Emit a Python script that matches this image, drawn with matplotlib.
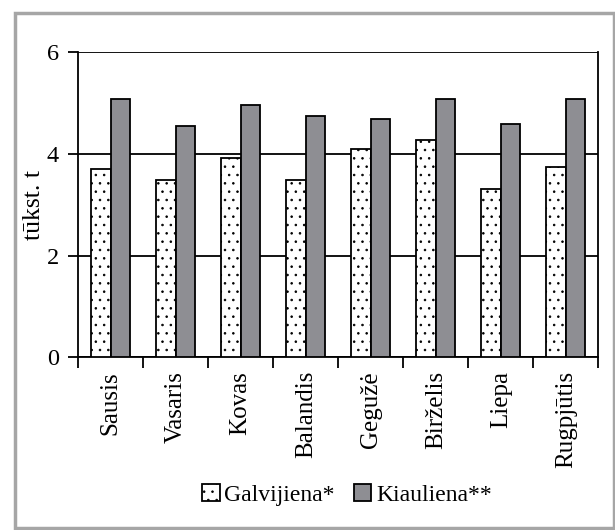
import numpy as np
import matplotlib
matplotlib.use("Agg")
import matplotlib.pyplot as plt
from matplotlib.patches import Rectangle

# data
months = ['Sausis', 'Vasaris', 'Kovas', 'Balandis', 'Gegužė', 'Birželis', 'Liepa', 'Rugpjūtis']
galvijiena = [3.70, 3.48, 3.91, 3.48, 4.10, 4.28, 3.30, 3.74]
kiauliena = [5.07, 4.54, 4.97, 4.75, 4.68, 5.07, 4.58, 5.07]
yticks = [0, 2, 4, 6]

plt.rcParams['font.family'] = ['Liberation Serif', 'DejaVu Serif']
plt.rcParams['hatch.linewidth'] = 0.6
plt.rcParams['hatch.color'] = '#555555'

fig = plt.figure(figsize=(6.15, 5.30), dpi=100, facecolor='white')

# grey frame around the whole chart
fig.patches.append(Rectangle((15 / 615, 2 / 530), 599 / 615, 515 / 530, transform=fig.transFigure,
                             fill=False, edgecolor='#a6a6a6', linewidth=2.5))

ax = fig.add_axes([0.127, 0.326, 0.846, 0.5755])
x = np.arange(len(months))
w = 0.30
ax.bar(x - w / 2, galvijiena, w, color='white', edgecolor='black', linewidth=1.3,
       hatch='..', label='Galvijiena*', zorder=3)
ax.bar(x + w / 2, kiauliena, w, color='#8e8e93', edgecolor='black', linewidth=1.3,
       label='Kiauliena**', zorder=3)

ax.set_xlim(-0.5, len(months) - 0.5)
ax.set_ylim(0, 6)
ax.set_yticks(yticks)
ax.set_yticklabels([str(v) for v in yticks], fontsize=17.5)
ax.yaxis.grid(True, color='black', linewidth=1.3, zorder=0)
ax.set_axisbelow(True)

ax.set_xticks(x)
ax.set_xticklabels(months, rotation=90, fontsize=18)
ax.set_xticks(np.arange(-0.5, len(months)), minor=True)
ax.tick_params(axis='x', which='major', length=0, pad=10)
ax.tick_params(axis='x', which='minor', length=8, width=1.3)
ax.tick_params(axis='y', length=7, width=1.3, pad=7)

for s in ['left', 'right', 'bottom']:
    ax.spines[s].set_linewidth(1.3)
ax.spines['top'].set_visible(False)

ax.set_ylabel('tūkst. t', fontsize=18.5)
ax.yaxis.set_label_coords(-0.063, 0.5)

fig.legend(loc='center', bbox_to_anchor=(0.564, 0.066), ncol=2, frameon=False, fontsize=17,
           handlelength=0.75, handleheight=0.75, handletextpad=0.2, columnspacing=0.8)

fig.savefig('out.png', dpi=100, facecolor='white')
